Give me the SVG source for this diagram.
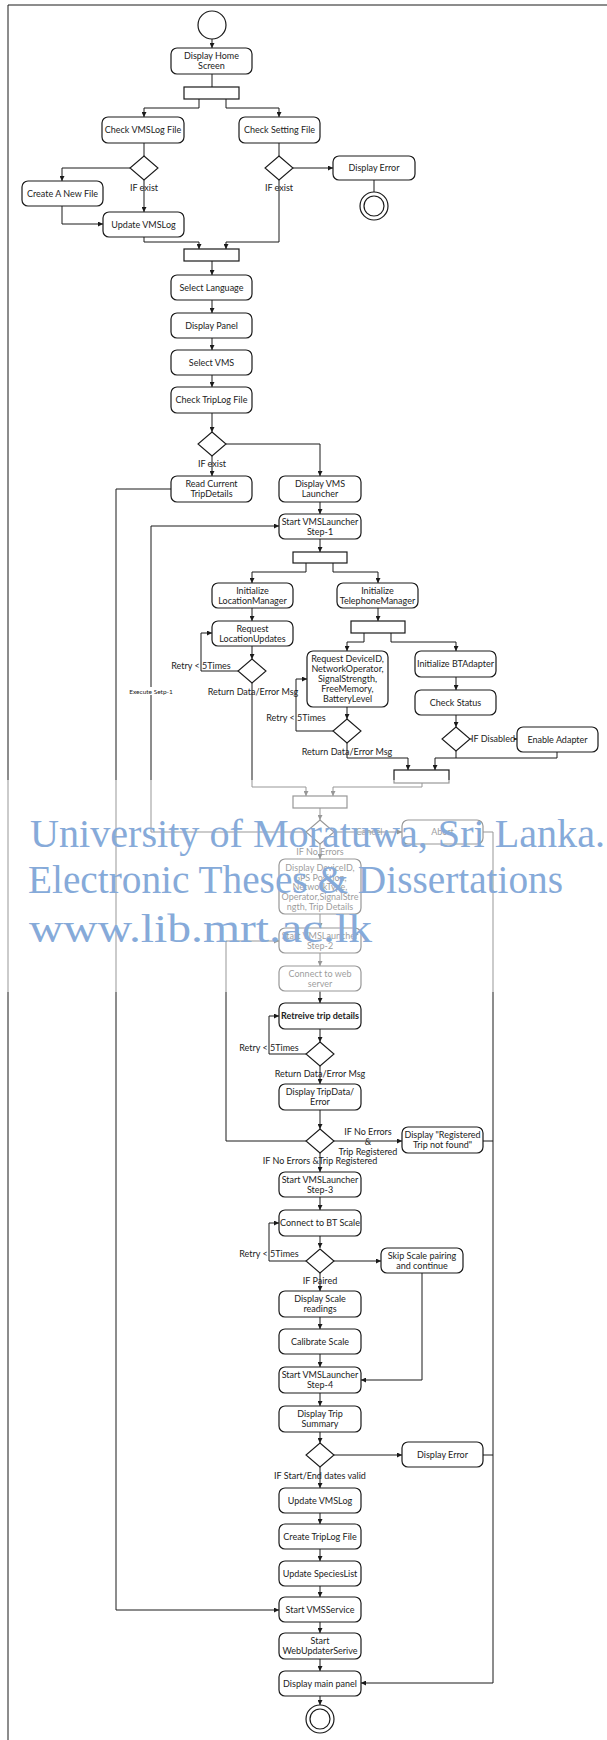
<svg xmlns="http://www.w3.org/2000/svg" width="607" height="1740" viewBox="0 0 607 1740">
  <style>
    .bx{fill:#fff;stroke:#1a1a1a;stroke-width:1.2}
    .bar{fill:#fff;stroke:#1a1a1a;stroke-width:1.2}
    .dm{fill:#fff;stroke:#1a1a1a;stroke-width:1.1}
    .t{font-family:Lato,"Liberation Sans",sans-serif;font-size:9px;fill:#222;text-anchor:middle}
    .lb{font-family:Lato,"Liberation Sans",sans-serif;font-size:9px;fill:#222;text-anchor:middle}
    .sm{font-family:Lato,"Liberation Sans",sans-serif;font-size:6.5px;fill:#222;text-anchor:middle}
    .e{fill:none;stroke:#1a1a1a;stroke-width:1}
    .a{fill:none;stroke:#1a1a1a;stroke-width:1;marker-end:url(#ah)}
    .wm{font-family:"Liberation Serif",serif;font-size:41px;fill:#86aad9}
  </style>
  <defs>
    <marker id="ah" viewBox="0 0 6 6" refX="6" refY="3" markerWidth="5" markerHeight="5" orient="auto" markerUnits="userSpaceOnUse">
      <path d="M0,0 L6,3 L0,6 z" fill="#1a1a1a"/>
    </marker>
  </defs>
  <rect width="607" height="1740" fill="#fff"/>
  <!-- frame -->
  <path class="e" d="M8,1740 V5 H607" stroke-width="1.2"/>

  <!-- connectors -->
  <g id="connectors">
    <path class="a" d="M212,39 V48"/>
    <path class="e" d="M212,74 V87"/>
    <path class="a" d="M199,99 V108 H144 V117"/>
    <path class="a" d="M226,99 V108 H279 V117"/>
    <path class="e" d="M144,143 V156"/>
    <path class="e" d="M279,143 V156"/>
    <path class="a" d="M130,168 H62 V181"/>
    <path class="a" d="M144,180 V212"/>
    <path class="a" d="M62,206 V224 H103"/>
    <path class="a" d="M293,168 H333"/>
    <path class="e" d="M374,180 V192"/>
    <path class="a" d="M279,180 V242 H226 V249"/>
    <path class="a" d="M144,237 V242 H199 V249"/>
    <path class="a" d="M212,261 V275"/>
    <path class="a" d="M212,300 V313"/>
    <path class="a" d="M212,338 V350"/>
    <path class="a" d="M212,375 V387"/>
    <path class="a" d="M212,413 V432"/>
    <path class="a" d="M212,456 V476"/>
    <path class="a" d="M226,444 H320 V476"/>
    <path class="a" d="M171,489 H116 V1610 H279"/>
    <path class="a" d="M320,502 V514"/>
    <path class="a" d="M320,539 V552"/>
    <path class="a" d="M306,563 V572 H252 V583"/>
    <path class="a" d="M333,563 V572 H378 V583"/>
    <path class="a" d="M252,608 V621"/>
    <path class="a" d="M378,608 V621"/>
    <path class="a" d="M252,646 V659"/>
    <path class="a" d="M239,671 H201 V633 H212"/>
    <path class="a" d="M252,683 V787 H306 V796"/>
    <path class="a" d="M364,633 V642 H347 V651"/>
    <path class="a" d="M391,633 V642 H456 V651"/>
    <path class="a" d="M347,707 V719"/>
    <path class="a" d="M333,731 H296 V679 H307"/>
    <path class="a" d="M347,743 V758 H408 V770"/>
    <path class="a" d="M456,677 V690"/>
    <path class="a" d="M456,715 V727"/>
    <path class="a" d="M470,739 H517"/>
    <path class="a" d="M557,752 V758 H435 V770"/>
    <path class="e" d="M456,751 V758"/>
    <path class="a" d="M422,783 V787 H333 V796"/>
    <path class="a" d="M320,808 V820"/>
    <path class="a" d="M306,832 H151 V526 H279"/>
    <path class="a" d="M333,832 H402"/>
    <path class="a" d="M320,844 V859"/>
    <path class="a" d="M483,832 H493 V1683 H361"/>
    <path class="a" d="M320,914 V928"/>
    <path class="a" d="M320,953 V966"/>
    <path class="a" d="M320,991 V1003"/>
    <path class="a" d="M320,1029 V1042"/>
    <path class="a" d="M306,1054 H269 V1016 H279"/>
    <path class="a" d="M320,1066 V1084"/>
    <path class="a" d="M320,1110 V1129"/>
    <path class="a" d="M306,1141 H226 V941 H279"/>
    <path class="a" d="M333,1141 H402"/>
    <path class="e" d="M483,1141 H493"/>
    <path class="a" d="M320,1153 V1172"/>
    <path class="a" d="M320,1197 V1210"/>
    <path class="a" d="M320,1236 V1248"/>
    <path class="a" d="M306,1261 H269 V1223 H279"/>
    <path class="a" d="M333,1261 H381"/>
    <path class="a" d="M422,1273 V1380 H361"/>
    <path class="a" d="M320,1273 V1291"/>
    <path class="a" d="M320,1317 V1329"/>
    <path class="a" d="M320,1354 V1367"/>
    <path class="a" d="M320,1393 V1406"/>
    <path class="a" d="M320,1432 V1443"/>
    <path class="a" d="M333,1455 H402"/>
    <path class="e" d="M483,1455 H493"/>
    <path class="a" d="M320,1467 V1488"/>
    <path class="a" d="M320,1513 V1524"/>
    <path class="a" d="M320,1549 V1561"/>
    <path class="a" d="M320,1586 V1597"/>
    <path class="a" d="M320,1622 V1633"/>
    <path class="a" d="M320,1659 V1671"/>
    <path class="a" d="M320,1696 V1705"/>
    <!-- connector labels -->
    <text class="lb" x="144" y="191">IF exist</text>
    <text class="lb" x="279" y="191">IF exist</text>
    <text class="lb" x="212" y="467">IF exist</text>
    <text class="lb" x="201" y="669">Retry &lt; 5Times</text>
    <text class="lb" x="253" y="695">Return Data/Error Msg</text>
    <text class="lb" x="296" y="721">Retry &lt; 5Times</text>
    <text class="lb" x="347" y="755">Return Data/Error Msg</text>
    <rect x="472" y="734" width="42" height="10" fill="#fff"/>
    <text class="lb" x="493" y="742">IF Disabled</text>
    <rect x="128" y="687" width="46" height="8" fill="#fff"/>
    <text class="sm" x="151" y="694">Execute Setp-1</text>
    <text class="lb" x="369" y="835" font-size="7.5px">Cancel</text>
    <text class="lb" x="320" y="855">IF No Errors</text>
    <text class="lb" x="269" y="1051">Retry &lt; 5Times</text>
    <text class="lb" x="320" y="1077">Return Data/Error Msg</text>
    <text class="lb" x="368" y="1135">IF No Errors</text>
    <text class="lb" x="368" y="1145">&amp;</text>
    <text class="lb" x="368" y="1155">Trip Registered</text>
    <text class="lb" x="320" y="1164">IF No Errors &amp;Trip Registered</text>
    <text class="lb" x="269" y="1257">Retry &lt; 5Times</text>
    <text class="lb" x="320" y="1284">IF Paired</text>
    <text class="lb" x="320" y="1479">IF Start/End dates valid</text>
  </g>

  <!-- initial / final states -->
  <g id="start"><circle cx="212" cy="25" r="14" fill="#fff" stroke="#1a1a1a" stroke-width="1.2"/></g>
  <g id="end1"><circle cx="374" cy="206" r="14" fill="#fff" stroke="#1a1a1a" stroke-width="1.2"/><circle cx="374" cy="206" r="10" fill="#fff" stroke="#1a1a1a" stroke-width="1.2"/></g>
  <g id="end2"><circle cx="320" cy="1719" r="14" fill="#fff" stroke="#1a1a1a" stroke-width="1.2"/><circle cx="320" cy="1719" r="10" fill="#fff" stroke="#1a1a1a" stroke-width="1.2"/></g>

  <!-- fork / join bars -->
  <g id="fork1"><rect class="bar" x="184" y="87" width="55" height="12"/></g>
  <g id="join1"><rect class="bar" x="184" y="249" width="55" height="12"/></g>
  <g id="fork2"><rect class="bar" x="293" y="552" width="54" height="11"/></g>
  <g id="fork3"><rect class="bar" x="351" y="621" width="54" height="12"/></g>
  <g id="join2"><rect class="bar" x="394" y="770" width="55" height="13"/></g>
  <g id="join3"><rect class="bar" x="293" y="796" width="54" height="12"/></g>

  <!-- decisions -->
  <g id="d1"><path class="dm" d="M144,156 L158,168 L144,180 L130,168 Z"/></g>
  <g id="d2"><path class="dm" d="M279,156 L293,168 L279,180 L265,168 Z"/></g>
  <g id="d3"><path class="dm" d="M212,432 L226,444 L212,456 L198,444 Z"/></g>
  <g id="d4"><path class="dm" d="M252,659 L266,671 L252,683 L238,671 Z"/></g>
  <g id="d5"><path class="dm" d="M347,719 L361,731 L347,743 L333,731 Z"/></g>
  <g id="d6"><path class="dm" d="M456,727 L470,739 L456,751 L442,739 Z"/></g>
  <g id="d7"><path class="dm" d="M320,820 L334,832 L320,844 L306,832 Z"/></g>
  <g id="d8"><path class="dm" d="M320,1042 L334,1054 L320,1066 L306,1054 Z"/></g>
  <g id="d9"><path class="dm" d="M320,1129 L334,1141 L320,1153 L306,1141 Z"/></g>
  <g id="d10"><path class="dm" d="M320,1249 L334,1261 L320,1273 L306,1261 Z"/></g>
  <g id="d11"><path class="dm" d="M320,1443 L334,1455 L320,1467 L306,1455 Z"/></g>

  <!-- actions -->
  <g id="homeScreen"><rect class="bx" x="171" y="48" width="81" height="26" rx="6"/><text class="t" x="211.5" y="59">Display Home</text><text class="t" x="211.5" y="69">Screen</text></g>
  <g id="checkVmsLog"><rect class="bx" x="102" y="117" width="82" height="26" rx="6"/><text class="t" x="143" y="133">Check VMSLog File</text></g>
  <g id="checkSetting"><rect class="bx" x="239" y="117" width="81" height="26" rx="6"/><text class="t" x="279.5" y="133">Check Setting File</text></g>
  <g id="createNewFile"><rect class="bx" x="22" y="181" width="81" height="25" rx="6"/><text class="t" x="62.5" y="196.5">Create A New File</text></g>
  <g id="updateVmsLog1"><rect class="bx" x="103" y="212" width="81" height="25" rx="6"/><text class="t" x="143.5" y="227.5">Update VMSLog</text></g>
  <g id="displayError1"><rect class="bx" x="333" y="156" width="82" height="24" rx="6"/><text class="t" x="374" y="171">Display Error</text></g>
  <g id="selectLanguage"><rect class="bx" x="171" y="275" width="81" height="25" rx="6"/><text class="t" x="211.5" y="290.5">Select Language</text></g>
  <g id="displayPanel"><rect class="bx" x="171" y="313" width="81" height="25" rx="6"/><text class="t" x="211.5" y="328.5">Display Panel</text></g>
  <g id="selectVms"><rect class="bx" x="171" y="350" width="81" height="25" rx="6"/><text class="t" x="211.5" y="365.5">Select VMS</text></g>
  <g id="checkTripLog"><rect class="bx" x="171" y="387" width="81" height="26" rx="6"/><text class="t" x="211.5" y="403">Check TripLog File</text></g>
  <g id="readTrip"><rect class="bx" x="171" y="476" width="81" height="26" rx="6"/><text class="t" x="211.5" y="487">Read Current</text><text class="t" x="211.5" y="497">TripDetails</text></g>
  <g id="displayLauncher"><rect class="bx" x="279" y="476" width="82" height="26" rx="6"/><text class="t" x="320" y="487">Display VMS</text><text class="t" x="320" y="497">Launcher</text></g>
  <g id="step1"><rect class="bx" x="279" y="514" width="82" height="25" rx="6"/><text class="t" x="320" y="524.5">Start VMSLauncher</text><text class="t" x="320" y="534.5">Step-1</text></g>
  <g id="initLocation"><rect class="bx" x="212" y="583" width="81" height="25" rx="6"/><text class="t" x="252.5" y="593.5">Initialize</text><text class="t" x="252.5" y="603.5">LocationManager</text></g>
  <g id="initTelephone"><rect class="bx" x="337" y="583" width="81" height="25" rx="6"/><text class="t" x="377.5" y="593.5">Initialize</text><text class="t" x="377.5" y="603.5">TelephoneManager</text></g>
  <g id="requestLocation"><rect class="bx" x="212" y="621" width="81" height="25" rx="6"/><text class="t" x="252.5" y="631.5">Request</text><text class="t" x="252.5" y="641.5">LocationUpdates</text></g>
  <g id="requestDevice"><rect class="bx" x="307" y="651" width="81" height="56" rx="6"/><text class="t" x="347.5" y="662">Request DeviceID,</text><text class="t" x="347.5" y="672">NetworkOperator,</text><text class="t" x="347.5" y="682">SignalStrength,</text><text class="t" x="347.5" y="692">FreeMemory,</text><text class="t" x="347.5" y="702">BatteryLevel</text></g>
  <g id="initBt"><rect class="bx" x="415" y="651" width="81" height="26" rx="6"/><text class="t" x="455.5" y="667">Initialize BTAdapter</text></g>
  <g id="checkStatus"><rect class="bx" x="415" y="690" width="81" height="25" rx="6"/><text class="t" x="455.5" y="705.5">Check Status</text></g>
  <g id="enableAdapter"><rect class="bx" x="517" y="727" width="81" height="25" rx="6"/><text class="t" x="557.5" y="742.5">Enable Adapter</text></g>
  <g id="abort"><rect class="bx" x="402" y="820" width="81" height="24" rx="6"/><text class="t" x="442.5" y="835">Abort</text></g>
  <g id="displayDevice"><rect class="bx" x="279" y="859" width="82" height="55" rx="6"/><text class="t" x="320" y="871">Display DeviceID,</text><text class="t" x="320" y="880.5">GPS Position,</text><text class="t" x="320" y="890">NetworkType,</text><text class="t" x="320" y="900">Operator,SignalStre</text><text class="t" x="320" y="910">ngth, Trip Details</text></g>
  <g id="step2"><rect class="bx" x="279" y="928" width="82" height="25" rx="6"/><text class="t" x="320" y="938.5">Start VMSLauncher</text><text class="t" x="320" y="948.5">Step-2</text></g>
  <g id="connectWeb"><rect class="bx" x="279" y="966" width="82" height="25" rx="6"/><text class="t" x="320" y="976.5">Connect to web</text><text class="t" x="320" y="986.5">server</text></g>
  <g id="retrieveTrip"><rect class="bx" x="279" y="1003" width="82" height="26" rx="6" stroke-width="1.5"/><text class="t" x="320" y="1019" font-weight="bold">Retreive trip details</text></g>
  <g id="displayTripData"><rect class="bx" x="279" y="1084" width="82" height="26" rx="6"/><text class="t" x="320" y="1095">Display TripData/</text><text class="t" x="320" y="1105">Error</text></g>
  <g id="notFound"><rect class="bx" x="402" y="1127" width="81" height="26" rx="6"/><text class="t" x="442.5" y="1138">Display "Registered</text><text class="t" x="442.5" y="1148">Trip not found"</text></g>
  <g id="step3"><rect class="bx" x="279" y="1172" width="82" height="25" rx="6"/><text class="t" x="320" y="1182.5">Start VMSLauncher</text><text class="t" x="320" y="1192.5">Step-3</text></g>
  <g id="connectScale"><rect class="bx" x="279" y="1210" width="82" height="26" rx="6"/><text class="t" x="320" y="1226">Connect to BT Scale</text></g>
  <g id="skipScale"><rect class="bx" x="381" y="1248" width="82" height="25" rx="6"/><text class="t" x="422" y="1258.5">Skip Scale pairing</text><text class="t" x="422" y="1268.5">and continue</text></g>
  <g id="displayScale"><rect class="bx" x="279" y="1291" width="82" height="26" rx="6"/><text class="t" x="320" y="1302">Display Scale</text><text class="t" x="320" y="1312">readings</text></g>
  <g id="calibrate"><rect class="bx" x="279" y="1329" width="82" height="25" rx="6"/><text class="t" x="320" y="1344.5">Calibrate Scale</text></g>
  <g id="step4"><rect class="bx" x="279" y="1367" width="82" height="26" rx="6"/><text class="t" x="320" y="1378">Start VMSLauncher</text><text class="t" x="320" y="1388">Step-4</text></g>
  <g id="tripSummary"><rect class="bx" x="279" y="1406" width="82" height="26" rx="6"/><text class="t" x="320" y="1417">Display Trip</text><text class="t" x="320" y="1427">Summary</text></g>
  <g id="displayError2"><rect class="bx" x="402" y="1442" width="81" height="25" rx="6"/><text class="t" x="442.5" y="1457.5">Display Error</text></g>
  <g id="updateVmsLog2"><rect class="bx" x="279" y="1488" width="82" height="25" rx="6"/><text class="t" x="320" y="1503.5">Update VMSLog</text></g>
  <g id="createTripLog"><rect class="bx" x="279" y="1524" width="82" height="25" rx="6"/><text class="t" x="320" y="1539.5">Create TripLog File</text></g>
  <g id="updateSpecies"><rect class="bx" x="279" y="1561" width="82" height="25" rx="6"/><text class="t" x="320" y="1576.5">Update SpeciesList</text></g>
  <g id="startService"><rect class="bx" x="279" y="1597" width="82" height="25" rx="6"/><text class="t" x="320" y="1612.5">Start VMSService</text></g>
  <g id="startWebUpdater"><rect class="bx" x="279" y="1633" width="82" height="26" rx="6"/><text class="t" x="320" y="1644">Start</text><text class="t" x="320" y="1654">WebUpdaterSerive</text></g>
  <g id="displayMain"><rect class="bx" x="279" y="1671" width="82" height="25" rx="6"/><text class="t" x="320" y="1686.5">Display main panel</text></g>

  <!-- repository stamp -->
  <g id="stamp">
    <rect x="0" y="780" width="607" height="212" fill="#fff" opacity="0.55"/>
    <text class="wm" x="30" y="847" textLength="575" lengthAdjust="spacingAndGlyphs">University of Moratuwa, Sri Lanka.</text>
    <text class="wm" x="28" y="893" textLength="535" lengthAdjust="spacingAndGlyphs">Electronic Theses &amp; Dissertations</text>
    <text class="wm" x="29" y="942" textLength="343" lengthAdjust="spacingAndGlyphs">www.lib.mrt.ac.lk</text>
  </g>
</svg>
